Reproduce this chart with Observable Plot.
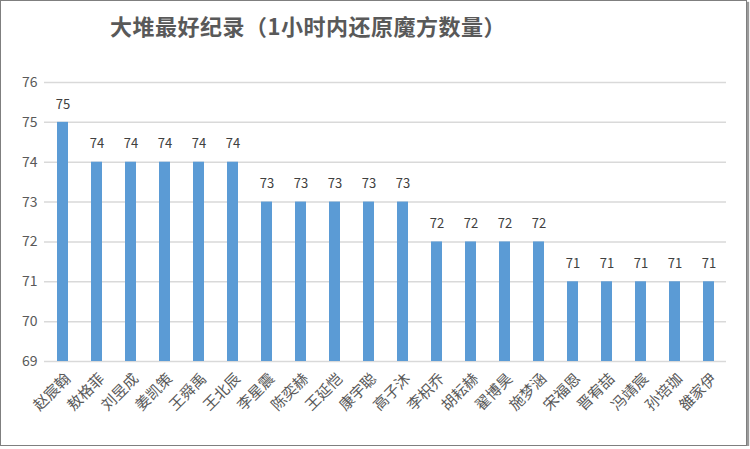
<!DOCTYPE html>
<html>
<head>
<meta charset="utf-8">
<script src="https://cdn.jsdelivr.net/npm/d3@7"></script>
<script src="https://cdn.jsdelivr.net/npm/@observablehq/plot@0.6"></script>
<style>
  body { margin: 0; background: #fff; }
  #box { position: relative; width: 745px; height: 444px; border: 1px solid #7f7f7f; box-shadow: 2px 2px 1px #9a9a9a; background: #fff; overflow: hidden; font-family: "Noto Sans CJK SC", sans-serif; }
  #title { position: absolute; left: 0; top: 8px; width: 614px; text-align: center; font-size: 22px; font-weight: bold; letter-spacing: 0.5px; color: #595959; font-family: "Noto Sans CJK SC", sans-serif; }
  #chart { position: absolute; left: 0; top: 60px; }
</style>
</head>
<body>
<div id="box">
  <div id="title">大堆最好纪录（1小时内还原魔方数量）</div>
  <div id="chart"></div>
</div>
<script>
const names = ["赵宸翰","敖格菲","刘昱成","姜凯策","王舜禹","王北辰","李星震","陈奕赫","王延恺","康宇聪","高子沐","李枳乔","胡耘赫","翟博昊","施梦涵","宋福恩","晋宥喆","冯靖宸","孙培珈","雒家伊"];
const values = [75,74,74,74,74,74,73,73,73,73,73,72,72,72,72,71,71,71,71,71];
const yTicks = [69,70,71,72,73,74,75,76];

const data = names.map((n, i) => ({name: n, value: values[i]}));

const chart = Plot.plot({
  width: 745,
  height: 384,
  marginTop: 21,
  marginBottom: 84,
  marginLeft: 43,
  marginRight: 20,
  style: {fontFamily: "'Noto Sans CJK SC', sans-serif", background: "transparent"},
  x: {domain: names, paddingInner: 0.68, paddingOuter: 0.34, label: null},
  y: {domain: [69, 76], label: null},
  marks: [
    Plot.gridY(yTicks, {stroke: "#d9d9d9", strokeOpacity: 1, strokeWidth: 1.5}),
    Plot.axisY(yTicks, {tickSize: 0, tickPadding: 7, fontSize: 14, fill: "#595959", label: null}),
    Plot.barY(data, {x: "name", y1: 69, y2: "value", fill: "#5b9bd5"}),
    Plot.text(data, {x: "name", y: "value", text: d => String(d.value), dy: -18, fontSize: 13, fill: "#404040"}),
    Plot.axisX({tickSize: 0, tickRotate: -45, fontSize: 15, fill: "#595959", dx: 5, dy: 3, label: null})
  ]
});
document.getElementById("chart").appendChild(chart);
</script>
</body>
</html>
